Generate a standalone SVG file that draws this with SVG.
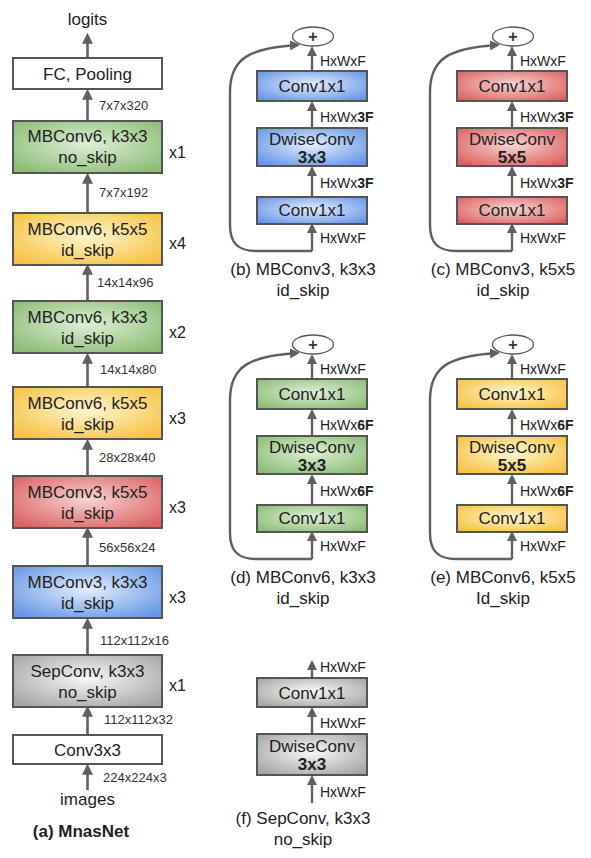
<svg xmlns="http://www.w3.org/2000/svg" width="591" height="858" viewBox="0 0 591 858">
<defs>
<radialGradient id="gGreen" cx="50%" cy="45%" r="65%"><stop offset="0" stop-color="#deefd7"/><stop offset="1" stop-color="#8dbd76"/></radialGradient>
<radialGradient id="gYellow" cx="50%" cy="45%" r="65%"><stop offset="0" stop-color="#fff5d2"/><stop offset="1" stop-color="#f6c240"/></radialGradient>
<radialGradient id="gRed" cx="50%" cy="45%" r="65%"><stop offset="0" stop-color="#f7d4d4"/><stop offset="1" stop-color="#dd6262"/></radialGradient>
<radialGradient id="gBlue" cx="50%" cy="45%" r="65%"><stop offset="0" stop-color="#e4edfd"/><stop offset="1" stop-color="#6797e6"/></radialGradient>
<radialGradient id="gGray" cx="50%" cy="45%" r="65%"><stop offset="0" stop-color="#f8f8f8"/><stop offset="1" stop-color="#a6a6a6"/></radialGradient>
<marker id="ah" viewBox="0 0 10 10" refX="7" refY="5" markerUnits="userSpaceOnUse" markerWidth="11" markerHeight="11" orient="auto"><path d="M0,0 L10,5 L0,10 z" fill="#606060"/></marker>
<marker id="ahs" viewBox="0 0 10 10" refX="7" refY="5" markerUnits="userSpaceOnUse" markerWidth="10" markerHeight="10" orient="auto"><path d="M0,0 L10,5 L0,10 z" fill="#606060"/></marker>
</defs>
<style>
.box{stroke:#555;stroke-width:2}
.t{font-family:"Liberation Sans",Arial,sans-serif;font-size:17px;fill:#222;text-anchor:middle}
.tb{font-weight:bold}
.d{font-family:"Liberation Sans",Arial,sans-serif;font-size:13px;fill:#333}
.m{font-family:"Liberation Sans",Arial,sans-serif;font-size:16px;fill:#222}
.h{font-family:"Liberation Sans",Arial,sans-serif;font-size:14px;fill:#222}
.p{font-family:"Liberation Sans",Arial,sans-serif;font-size:16px;font-weight:bold;fill:#333;text-anchor:middle}
.c{font-family:"Liberation Sans",Arial,sans-serif;font-size:17px;fill:#222;text-anchor:middle}
.a{stroke:#606060;stroke-width:2.6;fill:none;marker-end:url(#ah)}
.s{stroke:#606060;stroke-width:2.4;fill:none;marker-end:url(#ahs)}
.plus{fill:#fff;stroke:#555;stroke-width:1.3}
</style>

<g id="connectors">
<line class="a" x1="87.5" y1="58" x2="87.5" y2="36"/>
<line class="a" x1="87.5" y1="121" x2="87.5" y2="92"/>
<line class="a" x1="87.5" y1="213" x2="87.5" y2="176"/>
<line class="a" x1="87.5" y1="301" x2="87.5" y2="267"/>
<line class="a" x1="87.5" y1="387" x2="87.5" y2="356"/>
<line class="a" x1="87.5" y1="476" x2="87.5" y2="442"/>
<line class="a" x1="87.5" y1="566" x2="87.5" y2="530"/>
<line class="a" x1="87.5" y1="655" x2="87.5" y2="621"/>
<line class="a" x1="87.5" y1="735" x2="87.5" y2="709"/>
<line class="a" x1="87.5" y1="790" x2="87.5" y2="767"/>
<g id="conn-b">
<line class="s" x1="312" y1="71" x2="312" y2="49"/>
<line class="s" x1="312" y1="128" x2="312" y2="104"/>
<line class="s" x1="312" y1="197" x2="312" y2="169"/>
<line class="s" x1="312" y1="251" x2="312" y2="226"/>
<path class="s" d="M312,251 L256,251 C238,251 230,243 230,225 L230,92 C230,58 250,48 297,45"/>
</g>
<g transform="translate(200,0)"><use href="#conn-b"/></g>
<g transform="translate(0,308)"><use href="#conn-b"/></g>
<g transform="translate(200,308)"><use href="#conn-b"/></g>
<line class="s" x1="312" y1="678" x2="312" y2="663"/>
<line class="s" x1="312" y1="734" x2="312" y2="710"/>
<line class="s" x1="312" y1="803" x2="312" y2="778"/>
</g>

<g id="logits"><text class="t" x="87.5" y="25">logits</text></g>
<g id="fc"><rect class="box" x="13" y="58" width="149" height="31" fill="#fff"/><text class="t" x="87.5" y="80">FC, Pooling</text></g>
<text class="d" x="99" y="110">7x7x320</text>
<g id="a-mb6-k3-noskip"><rect class="box" x="13" y="121" width="149" height="52" fill="url(#gGreen)"/><text class="t" x="87.5" y="142">MBConv6, k3x3</text><text class="t" x="87.5" y="163">no_skip</text><text class="m" x="169" y="158">x1</text></g>
<text class="d" x="99" y="197">7x7x192</text>
<g id="a-mb6-k5-a"><rect class="box" x="13" y="213" width="149" height="52" fill="url(#gYellow)"/><text class="t" x="87.5" y="235">MBConv6, k5x5</text><text class="t" x="87.5" y="256">id_skip</text><text class="m" x="169" y="249">x4</text></g>
<text class="d" x="97" y="287">14x14x96</text>
<g id="a-mb6-k3"><rect class="box" x="13" y="301" width="149" height="52" fill="url(#gGreen)"/><text class="t" x="87.5" y="323">MBConv6, k3x3</text><text class="t" x="87.5" y="344">id_skip</text><text class="m" x="169" y="338">x2</text></g>
<text class="d" x="100" y="374">14x14x80</text>
<g id="a-mb6-k5-b"><rect class="box" x="13" y="387" width="149" height="52" fill="url(#gYellow)"/><text class="t" x="87.5" y="409">MBConv6, k5x5</text><text class="t" x="87.5" y="430">id_skip</text><text class="m" x="169" y="424">x3</text></g>
<text class="d" x="99" y="462">28x28x40</text>
<g id="a-mb3-k5"><rect class="box" x="13" y="476" width="149" height="52" fill="url(#gRed)"/><text class="t" x="87.5" y="498">MBConv3, k5x5</text><text class="t" x="87.5" y="519">id_skip</text><text class="m" x="169" y="513">x3</text></g>
<text class="d" x="99" y="552">56x56x24</text>
<g id="a-mb3-k3"><rect class="box" x="13" y="566" width="149" height="52" fill="url(#gBlue)"/><text class="t" x="87.5" y="588">MBConv3, k3x3</text><text class="t" x="87.5" y="609">id_skip</text><text class="m" x="169" y="603">x3</text></g>
<text class="d" x="100" y="645">112x112x16</text>
<g id="a-sep"><rect class="box" x="13" y="655" width="149" height="52" fill="url(#gGray)"/><text class="t" x="87.5" y="677">SepConv, k3x3</text><text class="t" x="87.5" y="698">no_skip</text><text class="m" x="169" y="691">x1</text></g>
<text class="d" x="104" y="724">112x112x32</text>
<g id="a-conv"><rect class="box" x="13" y="735" width="149" height="29" fill="#fff"/><text class="t" x="87.5" y="756">Conv3x3</text></g>
<text class="d" x="103" y="782">224x224x3</text>
<g id="images"><text class="t" x="87.5" y="805">images</text></g>
<text class="c tb" x="81" y="837">(a) MnasNet</text>

<g id="panel-b">
<ellipse class="plus" cx="313" cy="36.5" rx="20.5" ry="9.5"/><text class="p" x="313" y="42">+</text>
<text class="h" x="320" y="66">HxWxF</text>
<rect class="box" x="257" y="71" width="110" height="30" fill="url(#gBlue)"/><text class="t" x="312" y="92">Conv1x1</text>
<text class="h" x="320" y="122">HxWx<tspan font-weight="bold">3F</tspan></text>
<rect class="box" x="257" y="128" width="110" height="38" fill="url(#gBlue)"/><text class="t" x="312" y="145">DwiseConv</text><text class="t tb" x="312" y="163">3x3</text>
<text class="h" x="320" y="188">HxWx<tspan font-weight="bold">3F</tspan></text>
<rect class="box" x="257" y="197" width="110" height="27" fill="url(#gBlue)"/><text class="t" x="312" y="216">Conv1x1</text>
<text class="h" x="320" y="243">HxWxF</text>
<text class="c" x="303" y="275">(b) MBConv3, k3x3</text><text class="c" x="303" y="296">id_skip</text>
</g>
<g id="panel-c">
<ellipse class="plus" cx="513" cy="36.5" rx="20.5" ry="9.5"/><text class="p" x="513" y="42">+</text>
<text class="h" x="520" y="66">HxWxF</text>
<rect class="box" x="457" y="71" width="110" height="30" fill="url(#gRed)"/><text class="t" x="512" y="92">Conv1x1</text>
<text class="h" x="520" y="122">HxWx<tspan font-weight="bold">3F</tspan></text>
<rect class="box" x="457" y="128" width="110" height="38" fill="url(#gRed)"/><text class="t" x="512" y="145">DwiseConv</text><text class="t tb" x="512" y="163">5x5</text>
<text class="h" x="520" y="188">HxWx<tspan font-weight="bold">3F</tspan></text>
<rect class="box" x="457" y="197" width="110" height="27" fill="url(#gRed)"/><text class="t" x="512" y="216">Conv1x1</text>
<text class="h" x="520" y="243">HxWxF</text>
<text class="c" x="503" y="275">(c) MBConv3, k5x5</text><text class="c" x="503" y="296">id_skip</text>
</g>
<g id="panel-d">
<ellipse class="plus" cx="313" cy="344.5" rx="20.5" ry="9.5"/><text class="p" x="313" y="350">+</text>
<text class="h" x="320" y="374">HxWxF</text>
<rect class="box" x="257" y="379" width="110" height="30" fill="url(#gGreen)"/><text class="t" x="312" y="400">Conv1x1</text>
<text class="h" x="320" y="430">HxWx<tspan font-weight="bold">6F</tspan></text>
<rect class="box" x="257" y="436" width="110" height="38" fill="url(#gGreen)"/><text class="t" x="312" y="453">DwiseConv</text><text class="t tb" x="312" y="471">3x3</text>
<text class="h" x="320" y="496">HxWx<tspan font-weight="bold">6F</tspan></text>
<rect class="box" x="257" y="505" width="110" height="27" fill="url(#gGreen)"/><text class="t" x="312" y="524">Conv1x1</text>
<text class="h" x="320" y="551">HxWxF</text>
<text class="c" x="303" y="583">(d) MBConv6, k3x3</text><text class="c" x="303" y="604">id_skip</text>
</g>
<g id="panel-e">
<ellipse class="plus" cx="513" cy="344.5" rx="20.5" ry="9.5"/><text class="p" x="513" y="350">+</text>
<text class="h" x="520" y="374">HxWxF</text>
<rect class="box" x="457" y="379" width="110" height="30" fill="url(#gYellow)"/><text class="t" x="512" y="400">Conv1x1</text>
<text class="h" x="520" y="430">HxWx<tspan font-weight="bold">6F</tspan></text>
<rect class="box" x="457" y="436" width="110" height="38" fill="url(#gYellow)"/><text class="t" x="512" y="453">DwiseConv</text><text class="t tb" x="512" y="471">5x5</text>
<text class="h" x="520" y="496">HxWx<tspan font-weight="bold">6F</tspan></text>
<rect class="box" x="457" y="505" width="110" height="27" fill="url(#gYellow)"/><text class="t" x="512" y="524">Conv1x1</text>
<text class="h" x="520" y="551">HxWxF</text>
<text class="c" x="503" y="583">(e) MBConv6, k5x5</text><text class="c" x="503" y="604">Id_skip</text>
</g>
<g id="panel-f">
<text class="h" x="320" y="672">HxWxF</text>
<rect class="box" x="257" y="678" width="110" height="29" fill="url(#gGray)"/><text class="t" x="312" y="699">Conv1x1</text>
<text class="h" x="320" y="728">HxWxF</text>
<rect class="box" x="257" y="734" width="110" height="41" fill="url(#gGray)"/><text class="t" x="312" y="752">DwiseConv</text><text class="t tb" x="312" y="770">3x3</text>
<text class="h" x="320" y="797">HxWxF</text>
<text class="c" x="303" y="824">(f) SepConv, k3x3</text><text class="c" x="303" y="845">no_skip</text>
</g>
</svg>
